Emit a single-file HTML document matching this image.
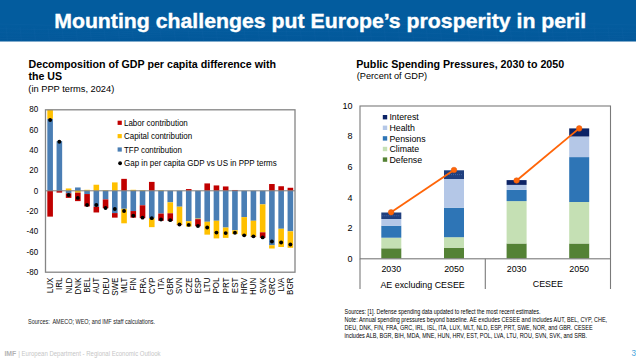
<!DOCTYPE html>
<html><head><meta charset="utf-8">
<style>
html,body{margin:0;padding:0;background:#fff;}
body{width:636px;height:358px;position:relative;overflow:hidden;font-family:"Liberation Sans",sans-serif;}
svg{position:absolute;left:0;top:0;}
text{font-family:"Liberation Sans",sans-serif;}
</style></head><body>
<svg width="636" height="358">
<defs><linearGradient id="hg" x1="0" y1="0" x2="0" y2="1"><stop offset="0" stop-color="#035c9e"/><stop offset="0.6" stop-color="#035c9e"/><stop offset="1" stop-color="#02589a"/></linearGradient></defs>
<rect x="0" y="0" width="636" height="41.5" fill="url(#hg)"/>
<g fill="none" stroke="#3b7cc0" stroke-width="0.5" opacity="0.15"><polyline points="0,24.0 20,24.5 40,25.0 60,25.5 80,25.9 100,26.2 120,26.4 140,26.5 160,26.5 180,26.4 200,26.2 220,25.8 240,25.4 260,25.0 280,24.5 300,24.0 320,23.4 340,22.9 360,22.5 380,22.1 400,21.8 420,21.6 440,21.5 460,21.5 480,21.6 500,21.9 520,22.2 540,22.6 560,23.1 580,23.6 600,24.1 620,24.6 640,25.1"/><polyline points="0,28.6 20,29.1 40,29.5 60,29.7 80,29.8 100,29.8 120,29.6 140,29.3 160,29.0 180,28.6 200,28.1 220,27.7 240,27.3 260,26.8 280,26.4 300,25.9 320,25.5 340,25.1 360,24.8 380,24.6 400,24.6 420,24.7 440,24.9 460,25.3 480,25.8 500,26.3 520,26.8 540,27.3 560,27.8 580,28.2 600,28.6 620,28.9 640,29.2"/><polyline points="0,32.7 20,33.0 40,33.2 60,33.1 80,32.9 100,32.5 120,31.9 140,31.3 160,30.8 180,30.2 200,29.8 220,29.4 240,29.1 260,28.8 280,28.6 300,28.3 320,28.1 340,28.0 360,27.9 380,28.0 400,28.2 420,28.6 440,29.1 460,29.8 480,30.4 500,31.1 520,31.7 540,32.1 560,32.4 580,32.5 600,32.6 620,32.6 640,32.6"/><polyline points="0,36.0 20,36.1 40,36.0 60,35.7 80,35.2 100,34.5 120,33.8 140,33.0 160,32.3 180,31.8 200,31.5 220,31.4 240,31.4 260,31.4 280,31.5 300,31.6 320,31.7 340,31.7 360,31.9 380,32.1 400,32.5 420,33.0 440,33.7 460,34.4 480,35.1 500,35.7 520,36.1 540,36.3 560,36.3 580,36.1 600,35.8 620,35.4 640,35.1"/><polyline points="0,38.5 20,38.4 40,38.1 60,37.7 80,37.0 100,36.3 120,35.5 140,34.8 160,34.2 180,33.9 200,33.9 220,34.1 240,34.5 260,34.9 280,35.4 300,35.7 320,36.0 340,36.2 360,36.4 380,36.6 400,37.0 420,37.5 440,38.1 460,38.8 480,39.3 500,39.7 520,39.9 540,39.8 560,39.4 580,38.8 600,38.1 620,37.5 640,36.9"/><polyline points="0,40.4 20,40.2 40,40.0 60,39.6 80,39.0 100,38.3 120,37.7 140,37.1 160,36.8 180,36.8 200,37.1 220,37.7 240,38.4 260,39.2 280,39.9 300,40.4 320,40.7 340,40.9 360,41.0 380,41.1 400,41.3 420,41.6 440,42.0 460,42.4 480,42.7 500,42.9 520,42.8 540,42.4 560,41.7 580,40.8 600,39.9 620,39.1 640,38.5"/><line x1="6" y1="26.2" x2="7.5" y2="41.5"/><line x1="20" y1="26.6" x2="21.5" y2="41.5"/><line x1="34" y1="27.1" x2="35.5" y2="41.5"/><line x1="48" y1="27.5" x2="49.5" y2="41.5"/><line x1="62" y1="27.8" x2="63.5" y2="41.5"/><line x1="76" y1="28.2" x2="77.5" y2="41.5"/><line x1="90" y1="28.4" x2="91.5" y2="41.5"/><line x1="104" y1="28.7" x2="105.5" y2="41.5"/><line x1="118" y1="28.8" x2="119.5" y2="41.5"/><line x1="132" y1="29.0" x2="133.5" y2="41.5"/><line x1="146" y1="29.0" x2="147.5" y2="41.5"/><line x1="160" y1="29.0" x2="161.5" y2="41.5"/><line x1="174" y1="28.9" x2="175.5" y2="41.5"/><line x1="188" y1="28.8" x2="189.5" y2="41.5"/><line x1="202" y1="28.5" x2="203.5" y2="41.5"/><line x1="216" y1="28.3" x2="217.5" y2="41.5"/><line x1="230" y1="28.0" x2="231.5" y2="41.5"/><line x1="244" y1="27.6" x2="245.5" y2="41.5"/><line x1="258" y1="27.2" x2="259.5" y2="41.5"/><line x1="272" y1="26.8" x2="273.5" y2="41.5"/><line x1="286" y1="26.4" x2="287.5" y2="41.5"/><line x1="300" y1="26.0" x2="301.5" y2="41.5"/><line x1="314" y1="25.5" x2="315.5" y2="41.5"/><line x1="328" y1="25.1" x2="329.5" y2="41.5"/><line x1="342" y1="24.7" x2="343.5" y2="41.5"/><line x1="356" y1="24.3" x2="357.5" y2="41.5"/><line x1="370" y1="23.9" x2="371.5" y2="41.5"/><line x1="384" y1="23.6" x2="385.5" y2="41.5"/><line x1="398" y1="23.4" x2="399.5" y2="41.5"/><line x1="412" y1="23.2" x2="413.5" y2="41.5"/><line x1="426" y1="23.1" x2="427.5" y2="41.5"/><line x1="440" y1="23.0" x2="441.5" y2="41.5"/><line x1="454" y1="23.0" x2="455.5" y2="41.5"/><line x1="468" y1="23.1" x2="469.5" y2="41.5"/><line x1="482" y1="23.2" x2="483.5" y2="41.5"/><line x1="496" y1="23.4" x2="497.5" y2="41.5"/><line x1="510" y1="23.6" x2="511.5" y2="41.5"/><line x1="524" y1="23.9" x2="525.5" y2="41.5"/><line x1="538" y1="24.3" x2="539.5" y2="41.5"/><line x1="552" y1="24.6" x2="553.5" y2="41.5"/><line x1="566" y1="25.0" x2="567.5" y2="41.5"/><line x1="580" y1="25.5" x2="581.5" y2="41.5"/><line x1="594" y1="25.9" x2="595.5" y2="41.5"/><line x1="608" y1="26.3" x2="609.5" y2="41.5"/><line x1="622" y1="26.8" x2="623.5" y2="41.5"/></g>
<text x="54.2" y="27.5" font-size="19.3" font-weight="bold" text-anchor="start" fill="#fff" textLength="532" lengthAdjust="spacingAndGlyphs" stroke="#fff" stroke-width="0.35">Mounting challenges put Europe’s prosperity in peril</text>
<text x="28.5" y="67.7" font-size="10.6" font-weight="bold" text-anchor="start" fill="#000" textLength="247.5" lengthAdjust="spacingAndGlyphs" >Decomposition of GDP per capita difference with</text>
<text x="28.5" y="79.6" font-size="10.6" font-weight="bold" text-anchor="start" fill="#000" textLength="33.6" lengthAdjust="spacingAndGlyphs" >the US</text>
<text x="28.3" y="91.6" font-size="9.7" font-weight="normal" text-anchor="start" fill="#000" textLength="86" lengthAdjust="spacingAndGlyphs" >(in PPP terms, 2024)</text>
<rect x="47.32" y="118.91" width="5.6" height="71.89" fill="#4a7eb4"/>
<rect x="47.32" y="109.80" width="5.6" height="9.11" fill="#ffc000"/>
<rect x="47.32" y="190.80" width="5.6" height="25.82" fill="#c00000"/>
<rect x="56.56" y="141.19" width="5.6" height="49.61" fill="#4a7eb4"/>
<rect x="56.56" y="190.80" width="5.6" height="1.82" fill="#c00000"/>
<rect x="65.80" y="190.80" width="5.6" height="2.53" fill="#4a7eb4"/>
<rect x="65.80" y="188.47" width="5.6" height="2.33" fill="#ffc000"/>
<rect x="65.80" y="193.33" width="5.6" height="4.56" fill="#c00000"/>
<rect x="75.04" y="187.46" width="5.6" height="3.34" fill="#4a7eb4"/>
<rect x="75.04" y="190.80" width="5.6" height="1.82" fill="#ffc000"/>
<rect x="75.04" y="192.62" width="5.6" height="8.50" fill="#c00000"/>
<rect x="84.28" y="190.80" width="5.6" height="3.24" fill="#4a7eb4"/>
<rect x="84.28" y="189.79" width="5.6" height="1.01" fill="#ffc000"/>
<rect x="84.28" y="194.04" width="5.6" height="12.35" fill="#c00000"/>
<rect x="93.52" y="190.80" width="5.6" height="16.00" fill="#4a7eb4"/>
<rect x="93.52" y="184.73" width="5.6" height="6.07" fill="#ffc000"/>
<rect x="93.52" y="206.80" width="5.6" height="5.67" fill="#c00000"/>
<rect x="102.76" y="190.80" width="5.6" height="8.61" fill="#4a7eb4"/>
<rect x="102.76" y="190.29" width="5.6" height="0.51" fill="#ffc000"/>
<rect x="102.76" y="199.41" width="5.6" height="8.81" fill="#c00000"/>
<rect x="112.01" y="190.80" width="5.6" height="22.28" fill="#4a7eb4"/>
<rect x="112.01" y="182.40" width="5.6" height="8.40" fill="#ffc000"/>
<rect x="112.01" y="213.08" width="5.6" height="4.56" fill="#c00000"/>
<rect x="121.25" y="190.80" width="5.6" height="18.02" fill="#4a7eb4"/>
<rect x="121.25" y="208.82" width="5.6" height="14.48" fill="#ffc000"/>
<rect x="121.25" y="178.85" width="5.6" height="11.95" fill="#c00000"/>
<rect x="130.49" y="190.80" width="5.6" height="20.25" fill="#4a7eb4"/>
<rect x="130.49" y="189.79" width="5.6" height="1.01" fill="#ffc000"/>
<rect x="130.49" y="211.05" width="5.6" height="6.58" fill="#c00000"/>
<rect x="139.73" y="190.80" width="5.6" height="14.48" fill="#4a7eb4"/>
<rect x="139.73" y="190.29" width="5.6" height="0.51" fill="#ffc000"/>
<rect x="139.73" y="205.28" width="5.6" height="12.86" fill="#c00000"/>
<rect x="148.97" y="190.80" width="5.6" height="27.34" fill="#4a7eb4"/>
<rect x="148.97" y="218.14" width="5.6" height="9.01" fill="#ffc000"/>
<rect x="148.97" y="181.89" width="5.6" height="8.91" fill="#c00000"/>
<rect x="158.21" y="190.80" width="5.6" height="22.78" fill="#4a7eb4"/>
<rect x="158.21" y="190.29" width="5.6" height="0.51" fill="#ffc000"/>
<rect x="158.21" y="213.58" width="5.6" height="7.19" fill="#c00000"/>
<rect x="167.45" y="190.80" width="5.6" height="11.54" fill="#4a7eb4"/>
<rect x="167.45" y="202.34" width="5.6" height="10.94" fill="#ffc000"/>
<rect x="167.45" y="213.28" width="5.6" height="7.59" fill="#c00000"/>
<rect x="176.69" y="190.80" width="5.6" height="15.90" fill="#4a7eb4"/>
<rect x="176.69" y="206.70" width="5.6" height="17.92" fill="#ffc000"/>
<rect x="176.69" y="224.62" width="5.6" height="0.51" fill="#c00000"/>
<rect x="185.93" y="190.80" width="5.6" height="30.38" fill="#4a7eb4"/>
<rect x="185.93" y="221.18" width="5.6" height="5.37" fill="#ffc000"/>
<rect x="185.93" y="189.08" width="5.6" height="1.72" fill="#c00000"/>
<rect x="195.17" y="190.80" width="5.6" height="27.84" fill="#4a7eb4"/>
<rect x="195.17" y="218.64" width="5.6" height="0.51" fill="#ffc000"/>
<rect x="195.17" y="219.15" width="5.6" height="7.09" fill="#c00000"/>
<rect x="204.41" y="190.80" width="5.6" height="30.98" fill="#4a7eb4"/>
<rect x="204.41" y="221.78" width="5.6" height="12.86" fill="#ffc000"/>
<rect x="204.41" y="183.41" width="5.6" height="7.39" fill="#c00000"/>
<rect x="213.65" y="190.80" width="5.6" height="29.97" fill="#4a7eb4"/>
<rect x="213.65" y="220.77" width="5.6" height="17.62" fill="#ffc000"/>
<rect x="213.65" y="185.43" width="5.6" height="5.37" fill="#c00000"/>
<rect x="222.89" y="190.80" width="5.6" height="36.75" fill="#4a7eb4"/>
<rect x="222.89" y="227.55" width="5.6" height="10.33" fill="#ffc000"/>
<rect x="222.89" y="186.45" width="5.6" height="4.35" fill="#c00000"/>
<rect x="232.14" y="190.80" width="5.6" height="39.49" fill="#4a7eb4"/>
<rect x="232.14" y="230.29" width="5.6" height="3.75" fill="#ffc000"/>
<rect x="232.14" y="189.99" width="5.6" height="0.81" fill="#c00000"/>
<rect x="241.38" y="190.80" width="5.6" height="26.32" fill="#4a7eb4"/>
<rect x="241.38" y="217.12" width="5.6" height="18.23" fill="#ffc000"/>
<rect x="250.62" y="190.80" width="5.6" height="29.97" fill="#4a7eb4"/>
<rect x="250.62" y="220.77" width="5.6" height="15.79" fill="#ffc000"/>
<rect x="250.62" y="236.56" width="5.6" height="0.51" fill="#c00000"/>
<rect x="259.86" y="190.80" width="5.6" height="13.57" fill="#4a7eb4"/>
<rect x="259.86" y="204.37" width="5.6" height="27.94" fill="#ffc000"/>
<rect x="259.86" y="232.31" width="5.6" height="5.57" fill="#c00000"/>
<rect x="269.10" y="190.80" width="5.6" height="54.47" fill="#4a7eb4"/>
<rect x="269.10" y="245.27" width="5.6" height="3.24" fill="#ffc000"/>
<rect x="269.10" y="184.02" width="5.6" height="6.78" fill="#c00000"/>
<rect x="278.34" y="190.80" width="5.6" height="37.97" fill="#4a7eb4"/>
<rect x="278.34" y="228.77" width="5.6" height="18.22" fill="#ffc000"/>
<rect x="278.34" y="186.24" width="5.6" height="4.56" fill="#c00000"/>
<rect x="287.58" y="190.80" width="5.6" height="40.50" fill="#4a7eb4"/>
<rect x="287.58" y="231.30" width="5.6" height="16.50" fill="#ffc000"/>
<rect x="287.58" y="187.76" width="5.6" height="3.04" fill="#c00000"/>
<line x1="45.5" y1="190.8" x2="295" y2="190.8" stroke="#7f7f7f" stroke-width="1"/>
<circle cx="50.12" cy="119.93" r="1.95" fill="#000"/>
<circle cx="59.36" cy="141.69" r="1.95" fill="#000"/>
<circle cx="68.60" cy="195.05" r="1.95" fill="#000"/>
<circle cx="77.84" cy="197.89" r="1.95" fill="#000"/>
<circle cx="87.08" cy="204.98" r="1.95" fill="#000"/>
<circle cx="96.32" cy="204.98" r="1.95" fill="#000"/>
<circle cx="105.56" cy="208.01" r="1.95" fill="#000"/>
<circle cx="114.81" cy="209.03" r="1.95" fill="#000"/>
<circle cx="124.05" cy="211.05" r="1.95" fill="#000"/>
<circle cx="133.29" cy="215.71" r="1.95" fill="#000"/>
<circle cx="142.53" cy="217.63" r="1.95" fill="#000"/>
<circle cx="151.77" cy="218.14" r="1.95" fill="#000"/>
<circle cx="161.01" cy="219.56" r="1.95" fill="#000"/>
<circle cx="170.25" cy="220.16" r="1.95" fill="#000"/>
<circle cx="179.49" cy="224.52" r="1.95" fill="#000"/>
<circle cx="188.73" cy="224.92" r="1.95" fill="#000"/>
<circle cx="197.97" cy="225.93" r="1.95" fill="#000"/>
<circle cx="207.21" cy="227.55" r="1.95" fill="#000"/>
<circle cx="216.45" cy="232.62" r="1.95" fill="#000"/>
<circle cx="225.69" cy="233.12" r="1.95" fill="#000"/>
<circle cx="234.94" cy="232.82" r="1.95" fill="#000"/>
<circle cx="244.18" cy="235.35" r="1.95" fill="#000"/>
<circle cx="253.42" cy="236.36" r="1.95" fill="#000"/>
<circle cx="262.66" cy="237.38" r="1.95" fill="#000"/>
<circle cx="271.90" cy="241.43" r="1.95" fill="#000"/>
<circle cx="281.14" cy="242.44" r="1.95" fill="#000"/>
<circle cx="290.38" cy="244.46" r="1.95" fill="#000"/>
<rect x="45.5" y="109.8" width="249.5" height="162.39999999999998" fill="none" stroke="#858585" stroke-width="1.3"/>
<text x="0" y="0" font-size="9.8" text-anchor="end" fill="#000" transform="translate(38.2,112.18) scale(0.82,1)">80</text>
<text x="0" y="0" font-size="9.8" text-anchor="end" fill="#000" transform="translate(38.2,132.56) scale(0.82,1)">60</text>
<text x="0" y="0" font-size="9.8" text-anchor="end" fill="#000" transform="translate(38.2,152.94) scale(0.82,1)">40</text>
<text x="0" y="0" font-size="9.8" text-anchor="end" fill="#000" transform="translate(38.2,173.32) scale(0.82,1)">20</text>
<text x="0" y="0" font-size="9.8" text-anchor="end" fill="#000" transform="translate(38.2,193.70) scale(0.82,1)">0</text>
<text x="0" y="0" font-size="9.8" text-anchor="end" fill="#000" transform="translate(38.2,214.08) scale(0.82,1)">-20</text>
<text x="0" y="0" font-size="9.8" text-anchor="end" fill="#000" transform="translate(38.2,234.46) scale(0.82,1)">-40</text>
<text x="0" y="0" font-size="9.8" text-anchor="end" fill="#000" transform="translate(38.2,254.84) scale(0.82,1)">-60</text>
<text x="0" y="0" font-size="9.8" text-anchor="end" fill="#000" transform="translate(38.2,275.22) scale(0.82,1)">-80</text>
<text transform="translate(53.12,277.6) rotate(-90) scale(0.93,1)" font-size="8.6" text-anchor="end" fill="#000">LUX</text>
<text transform="translate(62.36,277.6) rotate(-90) scale(0.93,1)" font-size="8.6" text-anchor="end" fill="#000">IRL</text>
<text transform="translate(71.60,277.6) rotate(-90) scale(0.93,1)" font-size="8.6" text-anchor="end" fill="#000">NLD</text>
<text transform="translate(80.84,277.6) rotate(-90) scale(0.93,1)" font-size="8.6" text-anchor="end" fill="#000">DNK</text>
<text transform="translate(90.08,277.6) rotate(-90) scale(0.93,1)" font-size="8.6" text-anchor="end" fill="#000">BEL</text>
<text transform="translate(99.32,277.6) rotate(-90) scale(0.93,1)" font-size="8.6" text-anchor="end" fill="#000">AUT</text>
<text transform="translate(108.56,277.6) rotate(-90) scale(0.93,1)" font-size="8.6" text-anchor="end" fill="#000">DEU</text>
<text transform="translate(117.81,277.6) rotate(-90) scale(0.93,1)" font-size="8.6" text-anchor="end" fill="#000">SWE</text>
<text transform="translate(127.05,277.6) rotate(-90) scale(0.93,1)" font-size="8.6" text-anchor="end" fill="#000">MLT</text>
<text transform="translate(136.29,277.6) rotate(-90) scale(0.93,1)" font-size="8.6" text-anchor="end" fill="#000">FIN</text>
<text transform="translate(145.53,277.6) rotate(-90) scale(0.93,1)" font-size="8.6" text-anchor="end" fill="#000">FRA</text>
<text transform="translate(154.77,277.6) rotate(-90) scale(0.93,1)" font-size="8.6" text-anchor="end" fill="#000">CYP</text>
<text transform="translate(164.01,277.6) rotate(-90) scale(0.93,1)" font-size="8.6" text-anchor="end" fill="#000">ITA</text>
<text transform="translate(173.25,277.6) rotate(-90) scale(0.93,1)" font-size="8.6" text-anchor="end" fill="#000">GBR</text>
<text transform="translate(182.49,277.6) rotate(-90) scale(0.93,1)" font-size="8.6" text-anchor="end" fill="#000">SVN</text>
<text transform="translate(191.73,277.6) rotate(-90) scale(0.93,1)" font-size="8.6" text-anchor="end" fill="#000">CZE</text>
<text transform="translate(200.97,277.6) rotate(-90) scale(0.93,1)" font-size="8.6" text-anchor="end" fill="#000">ESP</text>
<text transform="translate(210.21,277.6) rotate(-90) scale(0.93,1)" font-size="8.6" text-anchor="end" fill="#000">LTU</text>
<text transform="translate(219.45,277.6) rotate(-90) scale(0.93,1)" font-size="8.6" text-anchor="end" fill="#000">POL</text>
<text transform="translate(228.69,277.6) rotate(-90) scale(0.93,1)" font-size="8.6" text-anchor="end" fill="#000">PRT</text>
<text transform="translate(237.94,277.6) rotate(-90) scale(0.93,1)" font-size="8.6" text-anchor="end" fill="#000">EST</text>
<text transform="translate(247.18,277.6) rotate(-90) scale(0.93,1)" font-size="8.6" text-anchor="end" fill="#000">HRV</text>
<text transform="translate(256.42,277.6) rotate(-90) scale(0.93,1)" font-size="8.6" text-anchor="end" fill="#000">HUN</text>
<text transform="translate(265.66,277.6) rotate(-90) scale(0.93,1)" font-size="8.6" text-anchor="end" fill="#000">SVK</text>
<text transform="translate(274.90,277.6) rotate(-90) scale(0.93,1)" font-size="8.6" text-anchor="end" fill="#000">GRC</text>
<text transform="translate(284.14,277.6) rotate(-90) scale(0.93,1)" font-size="8.6" text-anchor="end" fill="#000">LVA</text>
<text transform="translate(293.38,277.6) rotate(-90) scale(0.93,1)" font-size="8.6" text-anchor="end" fill="#000">BGR</text>
<rect x="117.6" y="120.70" width="4.2" height="4.2" fill="#c00000"/>
<text x="124" y="125.80" font-size="9.1" font-weight="normal" text-anchor="start" fill="#000" textLength="63.8" lengthAdjust="spacingAndGlyphs" >Labor contribution</text>
<rect x="117.6" y="134.05" width="4.2" height="4.2" fill="#ffc000"/>
<text x="124" y="139.15" font-size="9.1" font-weight="normal" text-anchor="start" fill="#000" textLength="68.2" lengthAdjust="spacingAndGlyphs" >Capital contribution</text>
<rect x="117.6" y="147.40" width="4.2" height="4.2" fill="#4a7eb4"/>
<text x="124" y="152.50" font-size="9.1" font-weight="normal" text-anchor="start" fill="#000" textLength="57.9" lengthAdjust="spacingAndGlyphs" >TFP contribution</text>
<circle cx="120.1" cy="163.25" r="1.9" fill="#000"/>
<text x="124" y="165.85" font-size="9.1" font-weight="normal" text-anchor="start" fill="#000" textLength="152.8" lengthAdjust="spacingAndGlyphs" >Gap in per capita GDP vs US in PPP terms</text>
<rect x="381.30" y="248.30" width="20" height="10.20" fill="#548235"/>
<rect x="381.30" y="237.70" width="20" height="10.60" fill="#c5e0b4"/>
<rect x="381.30" y="225.70" width="20" height="12.00" fill="#2e75b6"/>
<rect x="381.30" y="219.00" width="20" height="6.70" fill="#b4c7e7"/>
<rect x="381.30" y="212.50" width="20" height="6.50" fill="#203f7e"/>
<line x1="382.30" y1="215.75" x2="400.30" y2="215.75" stroke="#5577b8" stroke-width="0.7" stroke-dasharray="1 1"/>
<rect x="444.00" y="247.70" width="20" height="10.80" fill="#548235"/>
<rect x="444.00" y="237.20" width="20" height="10.50" fill="#c5e0b4"/>
<rect x="444.00" y="207.70" width="20" height="29.50" fill="#2e75b6"/>
<rect x="444.00" y="179.00" width="20" height="28.70" fill="#b4c7e7"/>
<rect x="444.00" y="170.30" width="20" height="8.70" fill="#203f7e"/>
<line x1="445.00" y1="174.65" x2="463.00" y2="174.65" stroke="#5577b8" stroke-width="0.7" stroke-dasharray="1 1"/>
<rect x="506.60" y="243.50" width="20" height="15.00" fill="#548235"/>
<rect x="506.60" y="201.10" width="20" height="42.40" fill="#c5e0b4"/>
<rect x="506.60" y="189.90" width="20" height="11.20" fill="#2e75b6"/>
<rect x="506.60" y="184.90" width="20" height="5.00" fill="#b4c7e7"/>
<rect x="506.60" y="180.10" width="20" height="4.80" fill="#0c2366"/>
<rect x="569.20" y="243.50" width="20" height="15.00" fill="#548235"/>
<rect x="569.20" y="202.00" width="20" height="41.50" fill="#c5e0b4"/>
<rect x="569.20" y="157.10" width="20" height="44.90" fill="#2e75b6"/>
<rect x="569.20" y="136.50" width="20" height="20.60" fill="#b4c7e7"/>
<rect x="569.20" y="128.40" width="20" height="8.10" fill="#0c2366"/>
<rect x="360" y="106" width="250.5" height="152.8" fill="none" stroke="#7a7a7a" stroke-width="1.1"/>
<line x1="360" y1="258.8" x2="360" y2="289" stroke="#7a7a7a" stroke-width="1.1"/>
<line x1="485.3" y1="258.8" x2="485.3" y2="289" stroke="#7a7a7a" stroke-width="1.1"/>
<line x1="610.5" y1="258.8" x2="610.5" y2="289" stroke="#7a7a7a" stroke-width="1.1"/>
<line x1="391.1" y1="212.3" x2="454" y2="170" stroke="#ff6508" stroke-width="1.85"/>
<line x1="516.6" y1="180.5" x2="579.2" y2="128.4" stroke="#ff6508" stroke-width="1.85"/>
<circle cx="391.1" cy="212.3" r="2.8" fill="#ff6508" stroke="#e05a10" stroke-width="0.5"/>
<circle cx="454" cy="170" r="2.8" fill="#ff6508" stroke="#e05a10" stroke-width="0.5"/>
<circle cx="516.6" cy="180.5" r="2.8" fill="#ff6508" stroke="#e05a10" stroke-width="0.5"/>
<circle cx="579.2" cy="128.4" r="2.8" fill="#ff6508" stroke="#e05a10" stroke-width="0.5"/>
<text x="352.5" y="261.80" font-size="9" text-anchor="end" fill="#000">0</text>
<text x="352.5" y="231.22" font-size="9" text-anchor="end" fill="#000">2</text>
<text x="352.5" y="200.64" font-size="9" text-anchor="end" fill="#000">4</text>
<text x="352.5" y="170.06" font-size="9" text-anchor="end" fill="#000">6</text>
<text x="352.5" y="139.48" font-size="9" text-anchor="end" fill="#000">8</text>
<text x="352.5" y="108.90" font-size="9" text-anchor="end" fill="#000">10</text>
<text x="391.3" y="272.2" font-size="8.9" font-weight="normal" text-anchor="middle" fill="#000" >2030</text>
<text x="454" y="272.2" font-size="8.9" font-weight="normal" text-anchor="middle" fill="#000" >2050</text>
<text x="516.6" y="272.2" font-size="8.9" font-weight="normal" text-anchor="middle" fill="#000" >2030</text>
<text x="579.2" y="272.2" font-size="8.9" font-weight="normal" text-anchor="middle" fill="#000" >2050</text>
<text x="422.6" y="287.7" font-size="8.9" font-weight="normal" text-anchor="middle" fill="#000" >AE excluding CESEE</text>
<text x="547.8" y="287.2" font-size="8.9" font-weight="normal" text-anchor="middle" fill="#000" >CESEE</text>
<rect x="382.8" y="115.00" width="4.4" height="4.4" fill="#0c2366"/>
<text x="389.4" y="120.30" font-size="8.8" font-weight="normal" text-anchor="start" fill="#000" >Interest</text>
<rect x="382.8" y="125.60" width="4.4" height="4.4" fill="#b4c7e7"/>
<text x="389.4" y="130.90" font-size="8.8" font-weight="normal" text-anchor="start" fill="#000" >Health</text>
<rect x="382.8" y="136.20" width="4.4" height="4.4" fill="#2e75b6"/>
<text x="389.4" y="141.50" font-size="8.8" font-weight="normal" text-anchor="start" fill="#000" >Pensions</text>
<rect x="382.8" y="146.80" width="4.4" height="4.4" fill="#c5e0b4"/>
<text x="389.4" y="152.10" font-size="8.8" font-weight="normal" text-anchor="start" fill="#000" >Climate</text>
<rect x="382.8" y="157.40" width="4.4" height="4.4" fill="#548235"/>
<text x="389.4" y="162.70" font-size="8.8" font-weight="normal" text-anchor="start" fill="#000" >Defense</text>
<text x="356.2" y="67.6" font-size="10.5" font-weight="bold" text-anchor="start" fill="#000" textLength="208" lengthAdjust="spacingAndGlyphs" >Public Spending Pressures, 2030 to 2050</text>
<text x="356.7" y="79.3" font-size="9.9" font-weight="normal" text-anchor="start" fill="#000" textLength="70.5" lengthAdjust="spacingAndGlyphs" >(Percent of GDP)</text>
<text x="344.6" y="313.90" font-size="6.6" font-weight="normal" text-anchor="start" fill="#000" textLength="196" lengthAdjust="spacingAndGlyphs" >Sources: [1]. Defense spending data updated to reflect the most recent estimates.</text>
<text x="344.6" y="321.95" font-size="6.6" font-weight="normal" text-anchor="start" fill="#000" textLength="262.5" lengthAdjust="spacingAndGlyphs" >Note: Annual spending pressures beyond baseline. AE excludes CESEE and includes AUT, BEL, CYP, CHE,</text>
<text x="344.6" y="330.00" font-size="6.6" font-weight="normal" text-anchor="start" fill="#000" textLength="248" lengthAdjust="spacingAndGlyphs" >DEU, DNK, FIN, FRA, GRC, IRL, ISL, ITA, LUX, MLT, NLD, ESP, PRT, SWE, NOR, and GBR. CESEE</text>
<text x="344.6" y="338.05" font-size="6.6" font-weight="normal" text-anchor="start" fill="#000" textLength="242.5" lengthAdjust="spacingAndGlyphs" >includes ALB, BGR, BIH, MDA, MNE, HUN, HRV, EST, POL, LVA, LTU, ROU, SVN, SVK, and SRB.</text>
<text x="28.1" y="324.2" font-size="7.0" font-weight="normal" text-anchor="start" fill="#222" textLength="127" lengthAdjust="spacingAndGlyphs" >Sources:&#160; AMECO; WEO; and IMF staff calculations.</text>
<text x="4.4" y="355.9" font-size="7.0" font-weight="bold" text-anchor="start" fill="#b3b3b3" textLength="11.8" lengthAdjust="spacingAndGlyphs" >IMF</text>
<text x="18.2" y="356.3" font-size="7.0" font-weight="normal" text-anchor="start" fill="#c8c8c8" >|</text>
<text x="21.6" y="355.9" font-size="6.9" font-weight="normal" text-anchor="start" fill="#c6c6c6" textLength="139" lengthAdjust="spacingAndGlyphs" >European Department - Regional Economic Outlook</text>
<text x="631.6" y="356.0" font-size="8.2" font-weight="normal" text-anchor="start" fill="#4aa6dd" >3</text>
</svg></body></html>
